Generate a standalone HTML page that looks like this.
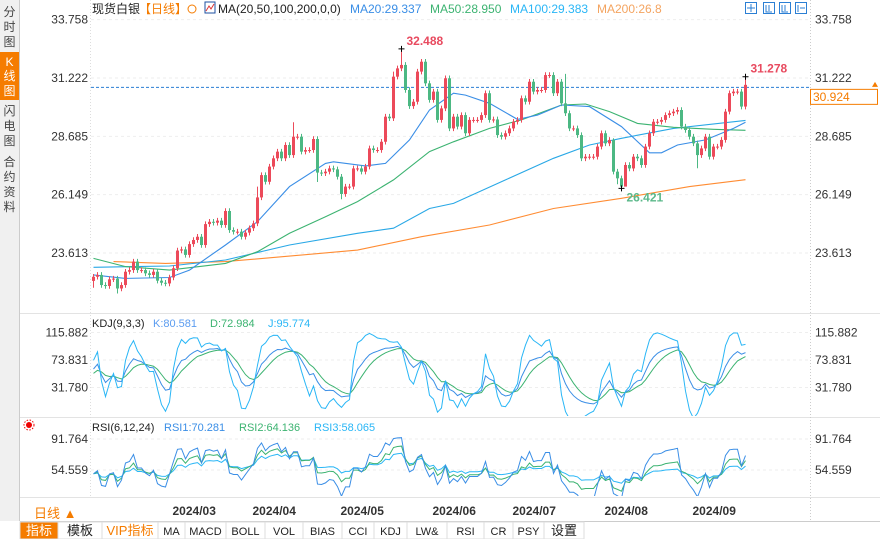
<!DOCTYPE html>
<html><head><meta charset="utf-8">
<style>
body{margin:0;width:880px;height:539px;overflow:hidden;background:#fff;font-family:"Liberation Sans","Noto Sans CJK SC",sans-serif;}
svg{position:absolute;left:0;top:0}
text{font-family:"Liberation Sans","Noto Sans CJK SC",sans-serif}
</style></head><body>
<svg id="c" width="880" height="539" xmlns="http://www.w3.org/2000/svg">
<defs>
<clipPath id="kdjClip"><rect x="91" y="314" width="718" height="102"/></clipPath>
<clipPath id="rsiClip"><rect x="91" y="418" width="718" height="78"/></clipPath>
</defs>
<rect x="0" y="0" width="19" height="521" fill="#f0f0f0"/>
<line x1="19.5" y1="0" x2="19.5" y2="521" stroke="#ccc"/>
<rect x="0" y="52" width="19" height="48" fill="#f57c00"/>
<g font-size="12" fill="#444" text-anchor="middle">
<text x="9.5" y="16">分</text><text x="9.5" y="31">时</text><text x="9.5" y="46">图</text>
<text x="9.5" y="66" fill="#fff">K</text><text x="9.5" y="80" fill="#fff">线</text><text x="9.5" y="95" fill="#fff">图</text>
<text x="9.5" y="115">闪</text><text x="9.5" y="130">电</text><text x="9.5" y="145">图</text>
<text x="9.5" y="166">合</text><text x="9.5" y="181">约</text><text x="9.5" y="196">资</text><text x="9.5" y="211">料</text>
</g>
<line x1="20" y1="313.5" x2="880" y2="313.5" stroke="#e3e3e3"/>
<line x1="20" y1="417.5" x2="880" y2="417.5" stroke="#e3e3e3"/>
<line x1="20" y1="497.5" x2="880" y2="497.5" stroke="#e3e3e3"/>
<line x1="90.5" y1="0" x2="90.5" y2="497" stroke="#ddd" stroke-dasharray="1,2"/>
<line x1="810.5" y1="0" x2="810.5" y2="521" stroke="#ccc" stroke-dasharray="1,2"/>
<g id="header">
<text x="92" y="13" font-size="12" fill="#222">现货白银</text>
<text x="139" y="13" font-size="12" fill="#f57c00">【日线】</text>
<circle cx="192" cy="9" r="4" fill="none" stroke="#f57c00"/>
<rect x="205" y="2" width="10" height="11" fill="#fff" stroke="#1c4fa0"/>
<polyline points="206,11 209,6 211,9 214,4" fill="none" stroke="#d33"/>
<text x="218" y="13" font-size="12" fill="#222">MA(20,50,100,200,0,0)</text>
<text x="350" y="13" font-size="12" fill="#3a8ee6">MA20:29.337</text>
<text x="430" y="13" font-size="12" fill="#3cb371">MA50:28.950</text>
<text x="510" y="13" font-size="12" fill="#29b6f6">MA100:29.383</text>
<text x="597" y="13" font-size="12" fill="#f4a460">MA200:26.8</text>
</g>
<g fill="#fff" stroke="#2b7fd4">
<rect x="745.5" y="2.5" width="11" height="11"/>
<rect x="763.5" y="2.5" width="11" height="11"/>
<rect x="779.5" y="2.5" width="11" height="11"/>
<rect x="795.5" y="2.5" width="11" height="11"/>
<path d="M751 4v8M747 8h8M766 5v7h6M769 5v6M782 5v7h6M785 5v6M798 5v7M800 8h5" stroke="#2b7fd4"/>
</g>
<g id="axes"></g>
<g id="main"></g>
<g id="kdj" clip-path="url(#kdjClip)"></g>
<g id="rsi" clip-path="url(#rsiClip)"></g>
<text x="92" y="327" font-size="11" fill="#222">KDJ(9,3,3)</text>
<text x="153" y="327" font-size="11" fill="#5b9cf0">K:80.581</text>
<text x="210" y="327" font-size="11" fill="#3cb371">D:72.984</text>
<text x="268" y="327" font-size="11" fill="#29b6f6">J:95.774</text>
<text x="92" y="431" font-size="11" fill="#222">RSI(6,12,24)</text>
<text x="164" y="431" font-size="11" fill="#3a8ee6">RSI1:70.281</text>
<text x="239" y="431" font-size="11" fill="#3cb371">RSI2:64.136</text>
<text x="314" y="431" font-size="11" fill="#29b6f6">RSI3:58.065</text>
<g><circle cx="29" cy="425" r="3" fill="#e00"/><circle cx="29" cy="425" r="5" fill="none" stroke="#e00" stroke-dasharray="1.5,1.5"/></g>
<g id="dates" font-size="12" font-weight="bold" fill="#333"></g>
<text x="34" y="518" font-size="13" fill="#f57c00">日线 ▲</text>
<g id="tabs" font-size="11"></g>
</svg>
<script>
const closes=[22.58,22.66,22.22,22.18,22.47,22.5,22.07,22.22,22.8,22.87,23.24,22.87,22.87,22.73,22.66,22.8,22.41,22.32,22.29,22.55,22.95,23.72,23.77,23.53,24.0,24.18,24.32,23.96,24.87,24.97,24.93,25.02,24.83,25.44,24.61,24.54,24.54,24.32,24.5,24.69,24.9,26.03,27.0,26.71,27.37,27.73,28.02,27.73,28.31,27.87,28.67,28.67,28.02,28.09,28.09,28.57,27.11,27.08,27.15,27.29,27.25,26.93,26.18,26.5,26.5,27.29,27.29,27.15,27.37,28.16,28.09,28.09,28.45,29.54,29.47,31.28,31.64,31.79,30.7,30.0,30.19,31.5,31.93,30.99,30.27,30.63,29.4,29.9,31.21,29.03,29.54,29.11,29.61,28.82,29.4,29.4,29.4,29.61,30.56,29.4,29.42,28.74,28.67,28.82,29.03,29.32,29.4,30.34,30.19,31.06,30.63,30.7,30.7,31.35,31.35,30.56,31.06,30.12,29.69,29.03,29.03,28.74,27.73,27.8,27.8,27.8,28.24,28.82,28.38,28.53,27.15,26.86,26.5,27.44,27.29,27.8,27.73,27.44,28.24,28.82,29.32,29.32,29.4,29.61,29.69,29.76,29.83,29.11,28.96,28.67,28.38,27.87,28.16,28.67,27.8,28.24,28.24,28.53,29.76,30.56,30.63,30.63,29.98,30.924];
const firstOpen=22.4;
const highIdx=[41,50,75,77,118,130,163];
const highVals=[26.5,29.3,31.5,32.488,31.4,28.6,31.278];
const lowIdx=[0,6,56,62,131,132,133,151];
const lowVals=[22.1,21.85,26.7,25.95,26.6,26.421,26.6,27.3];
const ma20Idx=[0,8,19,24,33,41,49,58,60,68,73,79,84,90,93,99,106,111,117,124,132,139,142,146,153,160,163];
const ma20Val=[22.66,22.51,22.55,22.87,23.96,24.98,26.5,27.51,27.58,27.4,27.51,28.53,29.83,30.56,30.48,30.12,29.42,29.61,30.05,29.98,29.11,27.97,27.97,28.31,28.53,29.03,29.3];
const ma50Idx=[0,8,19,33,41,49,58,66,75,84,90,99,107,117,123,129,136,145,155,163];
const ma50Val=[23.38,23.02,22.87,23.16,23.67,24.47,25.19,25.85,26.79,28.02,28.45,29.03,29.4,30.05,30.09,29.76,29.25,29.08,28.99,28.95];
const ma100Idx=[0,19,33,49,66,75,84,90,103,115,124,132,145,163];
const ma100Val=[22.99,23.05,23.31,23.96,24.47,24.69,25.55,25.77,26.79,27.73,28.31,28.6,29.03,29.38];
const ma200Idx=[5,18,33,49,66,82,99,115,132,149,163];
const ma200Val=[23.24,23.16,23.24,23.48,23.74,24.32,24.83,25.55,25.99,26.5,26.8];
const priceTicks=[33.758,31.222,28.685,26.149,23.613];
const kdjTicks=[115.882,73.831,31.780];
const rsiTicks=[91.764,54.559];
const dateLabels=["2024/03","2024/04","2024/05","2024/06","2024/07","2024/08","2024/09"];
const dateIdx=[20,40,62,85,105,128,150];
const tabNames=["指标","模板","VIP指标","MA","MACD","BOLL","VOL","BIAS","CCI","KDJ","LW&","RSI","CR","PSY","设置"];

const NS="http://www.w3.org/2000/svg";
function mk(p,t,a){const e=document.createElementNS(NS,t);for(const k in a)e.setAttribute(k,a[k]);p.appendChild(e);return e;}
const xI=i=>93.5+i*4;
const yP=p=>78+(31.222-p)*23.0;
const yK=v=>360-(v-73.831)*0.654;
const yR=v=>470-(v-54.559)*0.8332;
const G=id=>document.getElementById(id);
const N=closes.length;
const opens=closes.map((c,i)=>i?closes[i-1]:firstOpen);
const highs=closes.map((c,i)=>Math.max(c,opens[i])+0.12);
const lows=closes.map((c,i)=>Math.min(c,opens[i])-0.12);
highIdx.forEach((k,j)=>highs[k]=highVals[j]);
lowIdx.forEach((k,j)=>lows[k]=lowVals[j]);

// axes
const ax=G('axes');
priceTicks.forEach(t=>{const y=yP(t);
 const l=mk(ax,'line',{x1:91,x2:810,y1:y,y2:y,stroke:'#eee','stroke-dasharray':'3,3'});
 
 
 const a=mk(ax,'text',{x:88,y:y+4,'font-size':12,fill:'#333','text-anchor':'end'});a.textContent=t.toFixed(3);
 
 
 const b=mk(ax,'text',{x:815,y:y+4,'font-size':12,fill:'#333'});b.textContent=t.toFixed(3);
 
 
});
kdjTicks.forEach(t=>{const y=yK(t);
 mk(ax,'line',{x1:91,x2:810,y1:y,y2:y,stroke:'#eee','stroke-dasharray':'3,3'});
 const a=mk(ax,'text',{x:88,y:y+4,'font-size':12,fill:'#333','text-anchor':'end'});a.textContent=t.toFixed(3);
 
 
 const b=mk(ax,'text',{x:815,y:y+4,'font-size':12,fill:'#333'});b.textContent=t.toFixed(3);
 
 
});
rsiTicks.forEach(t=>{const y=yR(t);
 mk(ax,'line',{x1:91,x2:810,y1:y,y2:y,stroke:'#eee','stroke-dasharray':'3,3'});
 const a=mk(ax,'text',{x:88,y:y+4,'font-size':12,fill:'#333','text-anchor':'end'});a.textContent=t.toFixed(3);
 
 
 const b=mk(ax,'text',{x:815,y:y+4,'font-size':12,fill:'#333'});b.textContent=t.toFixed(3);
 
 
});

// main pane
const m=G('main');
const last=closes[N-1];
const cl=mk(m,'line',{x1:91,x2:810,y1:yP(last)+2.5,y2:yP(last)+2.5,stroke:'#2b7fd4','stroke-dasharray':'3,2'});


const pb=mk(m,'rect',{x:810.5,y:yP(last)+4.5,width:67,height:15,fill:'#fff',stroke:'#f57c00'});


const pt=mk(m,'text',{x:813,y:yP(last)+16,'font-size':12,fill:'#f57c00'});pt.textContent=last.toFixed(3);
mk(m,'path',{d:'M872 '+(yP(last)+2)+' l3 -5 l3 5z',fill:'#f57c00'});
function maLine(idx,val,color,name){
 const pts=idx.map((k,j)=>xI(k).toFixed(1)+','+yP(val[j]).toFixed(1)).join(' ');
 const p=mk(m,'polyline',{points:pts,fill:'none',stroke:color,'stroke-width':1.1});
 
 
}
maLine(ma200Idx,ma200Val,'#ff8c33','ma200-line');
maLine(ma100Idx,ma100Val,'#29a8e6','ma100-line');
maLine(ma50Idx,ma50Val,'#3cb371','ma50-line');
maLine(ma20Idx,ma20Val,'#3a8ee6','ma20-line');
for(let i=0;i<N;i++){
 const up=closes[i]>=opens[i];const col=up?'#ec4a5a':'#4cb883';const x=xI(i);
 const g=mk(m,'g',{});
 
 
 mk(g,'line',{x1:x,x2:x,y1:yP(highs[i]),y2:yP(lows[i]),stroke:col});
 const t=yP(Math.max(opens[i],closes[i])),b=yP(Math.min(opens[i],closes[i]));
 mk(g,'rect',{x:x-1.5,y:t,width:3,height:Math.max(1,b-t),fill:col});
}
function mark(i,v,label,col,above){
 const x=xI(i),y=yP(v);
 mk(m,'path',{d:`M${x-3} ${y}h6M${x} ${y-3}v6`,stroke:'#000'});
 const t=mk(m,'text',{x:x+5,y:above?y-4:y+13,'font-size':12,'font-weight':'bold',fill:col});t.textContent=label;
 
 
}
let hi=0,lo=101;for(let i=0;i<N;i++){if(highs[i]>highs[hi])hi=i;if(i>100&&lows[i]<lows[lo])lo=i;}
mark(hi,highs[hi],highs[hi].toFixed(3),'#e84a5f',true);
mark(N-1,highs[N-1],highs[N-1].toFixed(3),'#e84a5f',true);
mark(lo,lows[lo],lows[lo].toFixed(3),'#5bb88a',false);

// KDJ
let K=50,D=50;const Ks=[],Ds=[],Js=[];
for(let i=0;i<N;i++){let h=-1e9,l=1e9;for(let j=Math.max(0,i-8);j<=i;j++){h=Math.max(h,highs[j]);l=Math.min(l,lows[j]);}
 const rsv=h>l?(closes[i]-l)/(h-l)*100:50;K=(2*K+rsv)/3;D=(2*D+K)/3;Ks.push(K);Ds.push(D);Js.push(3*K-2*D);}
function pl(g,arr,fy,color,name){const p=mk(G(g),'polyline',{points:arr.map((v,i)=>xI(i).toFixed(1)+','+fy(v).toFixed(1)).join(' '),fill:'none',stroke:color});
 
 }
pl('kdj',Ds,yK,'#3cb371','kdj-d-line');pl('kdj',Ks,yK,'#3a8ee6','kdj-k-line');pl('kdj',Js,yK,'#29b6f6','kdj-j-line');
// RSI
function rsi(n){let a=0.1,b=0.2;const o=[50];for(let i=1;i<N;i++){const d=closes[i]-closes[i-1];a=(Math.max(d,0)+(n-1)*a)/n;b=(Math.abs(d)+(n-1)*b)/n;o.push(b?a/b*100:50);}return o;}
pl('rsi',rsi(24),yR,'#29b6f6','rsi3-line');pl('rsi',rsi(12),yR,'#3cb371','rsi2-line');pl('rsi',rsi(6),yR,'#3a8ee6','rsi1-line');

// dates
dateLabels.forEach((d,j)=>{const t=mk(G('dates'),'text',{x:xI(dateIdx[j])-1,y:515});t.textContent=d;
 
 });

// tabs
const tb=G('tabs');const tw=[38,44,56,27,41,39,38,39,32,33,40,37,29,31,40];let tx=20;
mk(tb,'line',{x1:20,x2:880,y1:521.5,y2:521.5,stroke:'#ccc'});
tabNames.forEach((n,j)=>{const w=tw[j];
 const r=mk(tb,'rect',{x:tx,y:522,width:w,height:17,fill:j==0?'#f57c00':'#fff',stroke:'#ddd'});
 
 
 const t=mk(tb,'text',{x:tx+w/2,y:535,'text-anchor':'middle',fill:j==0?'#fff':(j==2?'#f57c00':'#222'),'font-family':'"Liberation Mono","Noto Sans CJK SC",monospace','font-size':j<3||j==14?13:11});t.textContent=n;
 tx+=w;});
</script>
</body></html>
